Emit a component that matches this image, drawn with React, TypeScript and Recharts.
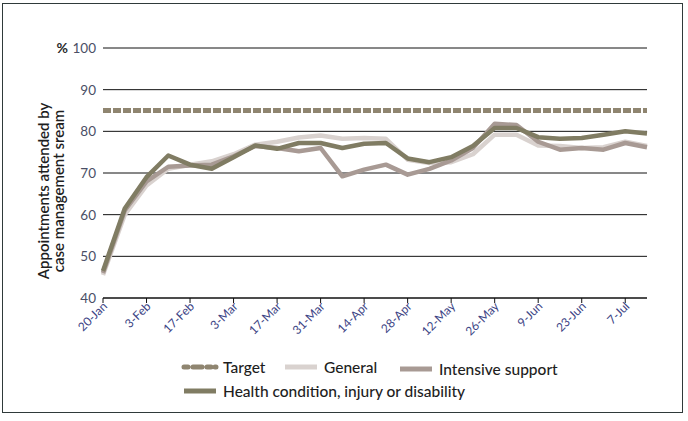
import React from "react";
import { LineChart, Line, XAxis, YAxis, CartesianGrid, Legend, Label } from "recharts";

const weeks = [
  "20-Jan", "27-Jan", "3-Feb", "10-Feb", "17-Feb", "24-Feb", "3-Mar", "10-Mar", "17-Mar",
  "24-Mar", "31-Mar", "7-Apr", "14-Apr", "21-Apr", "28-Apr", "5-May", "12-May", "19-May",
  "26-May", "2-Jun", "9-Jun", "16-Jun", "23-Jun", "30-Jun", "7-Jul", "14-Jul",
];

const targetValues = weeks.map(() => 85);

const generalValues = [
  45.5, 60, 67, 71, 72, 72.8, 74.5, 76.8, 77.5, 78.5, 79, 78.2, 78.4, 78.2, 73.2, 72.4, 72.6,
  74.5, 79.2, 79.2, 76.6, 76.5, 76, 76.2, 77.5, 76.5,
];

const intensiveValues = [
  46, 61, 68, 71.5, 71.8, 72, 74, 76.5, 76, 75.2, 76, 69.2, 70.8, 72, 69.6, 71, 73, 76, 81.8,
  81.5, 77.5, 75.6, 76, 75.6, 77.2, 76.2,
];

const healthValues = [
  46.5, 61.5, 69, 74.2, 72, 71, 73.8, 76.6, 75.8, 77.2, 77.2, 76, 77, 77.2, 73.5, 72.6, 73.8,
  76.5, 80.8, 80.8, 78.6, 78.2, 78.4, 79.2, 80, 79.5,
];

const yTicks = [40, 50, 60, 70, 80, 90, 100];

const seriesNames = {
  target: "Target",
  general: "General",
  intensive: "Intensive support",
  health: "Health condition, injury or disability",
};

const colors = {
  target: "#8f8570",
  general: "#d9d2cf",
  intensive: "#a89a94",
  health: "#807c63",
};

const data = weeks.map((w, i) => ({
  week: w,
  target: targetValues[i],
  general: generalValues[i],
  intensive: intensiveValues[i],
  health: healthValues[i],
}));

const FONT = "Lato, 'Open Sans', sans-serif";

const XTick = (props: any) => {
  const { x, y, payload } = props;
  return (
    <g transform={`translate(${x},${y})`}>
      <text
        x={0}
        y={0}
        dy={5}
        dx={2}
        textAnchor="end"
        transform="rotate(-45)"
        fontSize={12}
        fontFamily={FONT}
        fill="#3c4485"
      >
        {payload.value}
      </text>
    </g>
  );
};

const YTick = (props: any) => {
  const { x, y, payload } = props;
  return (
    <g>
      {payload.value === 100 && (
        <text x={x - 28} y={y} dy={5} textAnchor="end" fontSize={14} fontWeight={700} fontFamily={FONT} fill="#2a2a2a">
          %
        </text>
      )}
      <text x={x} y={y} dy={5} textAnchor="end" fontSize={13.5} fontFamily={FONT} fill="#4a4f66">
        {payload.value}
      </text>
    </g>
  );
};

const YLabel = (props: any) => {
  const { viewBox } = props;
  const cy = viewBox.y + viewBox.height / 2 + 18;
  const cx = 49;
  return (
    <text
      transform={`translate(${cx},${cy}) rotate(-90)`}
      textAnchor="middle"
      fontSize={15}
      fontWeight={600}
      fontFamily={FONT}
      fill="#1e1e1e"
    >
      <tspan x={0} dy={0}>Appointments attended by</tspan>
      <tspan x={0} dy={15}>case management sream</tspan>
    </text>
  );
};

const LegendSample = ({ color, dashed, width }: { color: string; dashed?: boolean; width: number }) => (
  <svg width={38} height={10} style={{ display: "block" }}>
    <line
      x1={3}
      y1={5}
      x2={35}
      y2={5}
      stroke={color}
      strokeWidth={width}
      strokeDasharray={dashed ? "4 5 9 5 4" : undefined}
      strokeLinecap={dashed ? "round" : "butt"}
    />
  </svg>
);

const LegendContent = () => {
  const item = (left: number, top: number, key: keyof typeof colors, dashed?: boolean) => (
    <div
      key={key}
      style={{
        position: "absolute",
        left,
        top,
        display: "flex",
        alignItems: "center",
        gap: 4,
        whiteSpace: "nowrap",
        fontFamily: FONT,
        fontSize: 15.5,
        fontWeight: 500,
        color: "#1e1e1e",
      }}
    >
      <LegendSample color={colors[key]} dashed={dashed} width={5} />
      <span>{seriesNames[key]}</span>
    </div>
  );
  return (
    <div style={{ position: "relative", width: 688, height: 50 }}>
      {item(181, 0, "target", true)}
      {item(282, 0, "general")}
      {item(397, 2, "intensive")}
      {item(181, 24, "health")}
    </div>
  );
};

export default function App() {
  return (
    <div style={{ position: "absolute", left: 0, top: 0, width: 688, height: 421, background: "#fff" }}>
      <div
        style={{
          position: "absolute",
          left: 2,
          top: 3,
          width: 679,
          height: 408,
          border: "1px solid #2f3a3a",
        }}
      />
      <div style={{ position: "absolute", left: 0, top: 0 }}>
        <LineChart
          width={688}
          height={421}
          data={data}
          margin={{ top: 48, right: 41, left: 0, bottom: 83 }}
        >
          <CartesianGrid horizontal vertical={false} stroke="#111" strokeWidth={1} />
          <XAxis
            dataKey="week"
            interval={1}
            padding={{ left: 0, right: 0 }}
            height={40}
            tick={<XTick />}
            tickSize={5}
            tickMargin={2}
            tickLine={{ stroke: "#111" }}
            axisLine={{ stroke: "#111" }}
          />
          <YAxis
            domain={[40, 100]}
            ticks={yTicks}
            width={103}
            axisLine={false}
            tickLine={false}
            tickSize={0}
            tickMargin={7}
            tick={<YTick />}
            interval={0}
          >
            <Label content={<YLabel />} />
          </YAxis>
          <Legend
            layout="horizontal"
            verticalAlign="middle"
            align="center"
            content={<LegendContent />}
            wrapperStyle={{ top: 358, left: 0, width: 688, height: 50 }}
          />
          <Line
            type="linear"
            dataKey="target"
            name={seriesNames.target}
            stroke={colors.target}
            strokeWidth={5}
            strokeDasharray="8 2"
            dot={false}
            activeDot={false}
            isAnimationActive={false}
          />
          <Line
            type="linear"
            dataKey="general"
            name={seriesNames.general}
            stroke={colors.general}
            strokeWidth={4.5}
            strokeLinejoin="round"
            dot={false}
            activeDot={false}
            isAnimationActive={false}
          />
          <Line
            type="linear"
            dataKey="intensive"
            name={seriesNames.intensive}
            stroke={colors.intensive}
            strokeWidth={4.5}
            strokeLinejoin="round"
            dot={false}
            activeDot={false}
            isAnimationActive={false}
          />
          <Line
            type="linear"
            dataKey="health"
            name={seriesNames.health}
            stroke={colors.health}
            strokeWidth={4.5}
            strokeLinejoin="round"
            dot={false}
            activeDot={false}
            isAnimationActive={false}
          />
        </LineChart>
      </div>
    </div>
  );
}
